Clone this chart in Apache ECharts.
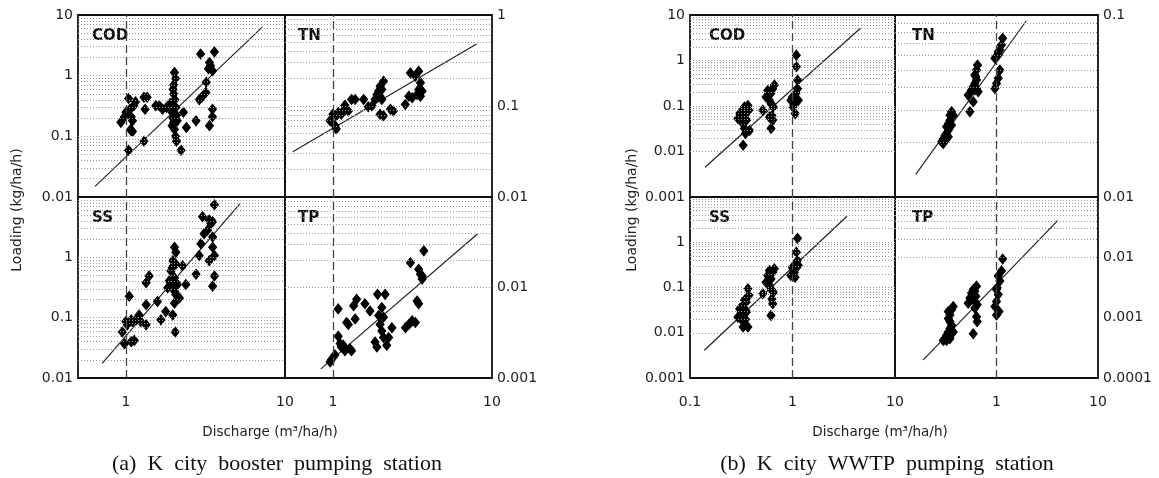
<!DOCTYPE html>
<html>
<head>
<meta charset="utf-8">
<script src="https://cdn.jsdelivr.net/npm/echarts@6.0.0/dist/echarts.min.js"></script>
<style>
html, body { margin: 0; padding: 0; background: #fff; }
#main { width: 1159px; height: 478px; }
</style>
</head>
<body>
<div id="main"></div>
<script>
// (a) K city booster pumping station  -- [discharge, loading]
var codA = [[0.93,0.17],[0.98,0.21],[1.0,0.25],[1.04,0.42],[1.06,0.28],[1.08,0.21],[1.1,0.18],[1.12,0.32],[1.15,0.37],
  [1.08,0.125],[1.1,0.12],[1.07,0.13],[1.04,0.059],[1.3,0.083],[1.3,0.44],[1.36,0.44],[1.32,0.28],[1.54,0.32],[1.62,0.32],
  [1.7,0.28],[1.8,0.3],[1.9,0.35],[1.95,0.25],[1.97,0.2],[1.98,0.6],[2.0,0.7],[2.02,1.13],[2.05,0.9],[2.0,0.5],[2.03,0.4],
  [2.06,0.3],[2.08,0.22],[2.0,0.17],[1.95,0.15],[2.02,0.13],[2.05,0.1],[2.08,0.083],[2.1,0.18],[2.22,0.059],[2.3,0.25],
  [2.4,0.14],[2.76,0.18],[2.89,0.4],[3.0,0.44],[3.18,0.53],[3.2,0.78],[2.95,2.27],[3.6,2.47],[3.35,1.65],[3.4,1.46],
  [3.5,1.21],[3.3,1.3],[3.5,0.28],[3.5,0.21],[3.35,0.15]];
var tnA = [[0.96,0.069],[1.0,0.081],[1.05,0.078],[1.08,0.085],[1.03,0.061],[1.05,0.056],[1.13,0.081],[1.16,0.088],[1.19,0.102],
  [1.25,0.088],[1.31,0.118],[1.38,0.118],[1.56,0.118],[1.67,0.098],[1.76,0.1],[1.84,0.118],[1.89,0.134],[1.94,0.146],
  [1.98,0.165],[2.03,0.152],[2.08,0.187],[1.98,0.128],[2.03,0.118],[1.98,0.081],[2.08,0.078],[2.3,0.092],[2.4,0.088],
  [2.85,0.104],[3.0,0.128],[3.15,0.123],[3.07,0.231],[3.3,0.213],[3.46,0.241],[3.55,0.18],[3.46,0.152],[3.55,0.128],
  [3.38,0.134],[3.64,0.146]];
var ssA = [[0.95,0.058],[0.98,0.037],[1.05,0.226],[1.0,0.086],[1.02,0.076],[1.08,0.092],[1.1,0.086],[1.08,0.04],[1.13,0.042],
  [1.16,0.092],[1.21,0.111],[1.24,0.086],[1.34,0.076],[1.34,0.164],[1.34,0.379],[1.4,0.491],[1.58,0.186],[1.66,0.092],
  [1.78,0.126],[1.83,0.312],[1.87,0.404],[1.92,0.596],[1.95,0.678],[2.02,0.46],[1.97,0.355],[2.02,0.274],[2.06,0.241],
  [2.02,1.47],[2.06,1.21],[1.97,0.879],[2.06,0.772],[2.02,0.174],[1.97,0.111],[2.04,0.058],[2.11,0.355],[2.17,0.212],
  [2.27,0.724],[2.38,0.355],[2.76,0.524],[2.89,1.07],[2.96,1.68],[3.03,4.72],[3.1,2.47],[3.26,2.81],[3.34,4.15],[3.42,3.65],
  [3.51,3.89],[3.6,7.42],[3.51,2.17],[3.34,0.879],[3.6,1.07],[3.51,1.47],[3.6,0.491],[3.51,0.333]];
var tpA = [[0.96,0.0015],[0.98,0.0016],[1.03,0.0018],[1.08,0.0029],[1.08,0.0058],[1.11,0.0024],[1.13,0.0022],[1.16,0.0023],
  [1.19,0.002],[1.22,0.0041],[1.25,0.0039],[1.28,0.0021],[1.31,0.002],[1.35,0.0063],[1.38,0.0045],[1.41,0.0074],[1.59,0.0066],
  [1.71,0.0055],[1.84,0.0025],[1.89,0.0022],[1.91,0.0084],[1.94,0.0049],[1.98,0.0039],[2.03,0.0033],[2.08,0.0028],
  [2.13,0.0084],[2.03,0.006],[2.08,0.0047],[2.18,0.0023],[2.24,0.0028],[2.35,0.0036],[2.86,0.0036],[3.0,0.0039],
  [3.15,0.0043],[3.3,0.0041],[3.07,0.0188],[3.38,0.0071],[3.46,0.0066],[3.55,0.014],[3.64,0.0124],[3.46,0.0159],
  [3.73,0.0254],[3.64,0.0134]];

// (b) K city WWTP pumping station
var codB = [[0.293,0.053],[0.305,0.068],[0.316,0.062],[0.328,0.081],[0.34,0.095],[0.353,0.068],[0.367,0.103],[0.375,0.081],
  [0.328,0.041],[0.34,0.032],[0.353,0.027],[0.381,0.029],[0.33,0.0137],[0.348,0.025],[0.316,0.049],[0.357,0.049],
  [0.513,0.081],[0.552,0.158],[0.573,0.22],[0.595,0.133],[0.617,0.19],[0.641,0.24],[0.665,0.29],[0.617,0.112],[0.63,0.062],
  [0.617,0.032],[0.641,0.049],[0.595,0.057],[0.65,0.095],[0.963,0.133],[1.0,0.158],[1.04,0.112],[1.08,0.19],[1.12,0.24],
  [1.12,0.37],[1.09,0.73],[1.09,1.31],[1.06,0.068],[1.01,0.095],[1.14,0.133]];
var tnB = [[0.288,0.0201],[0.299,0.0209],[0.311,0.0218],[0.322,0.0223],[0.335,0.0233],[0.322,0.0243],[0.335,0.0253],
  [0.348,0.0264],[0.361,0.0248],[0.348,0.0281],[0.361,0.0294],[0.375,0.0281],[0.335,0.0214],[0.311,0.0205],[0.299,0.0197],
  [0.526,0.0363],[0.547,0.0294],[0.568,0.0387],[0.59,0.0403],[0.612,0.0387],[0.612,0.0421],[0.636,0.044],[0.612,0.0468],
  [0.636,0.0498],[0.65,0.0531],[0.626,0.0458],[0.59,0.0334],[0.636,0.0395],[0.66,0.0379],[0.963,0.0395],[1.0,0.0421],
  [1.04,0.0449],[1.08,0.0498],[0.963,0.0578],[1.04,0.0603],[1.08,0.0642],[1.12,0.0684],[1.15,0.0744],[1.04,0.0628],[1.0,0.059]];
var ssB = [[0.293,0.022],[0.305,0.034],[0.316,0.029],[0.328,0.04],[0.34,0.052],[0.353,0.048],[0.367,0.094],[0.375,0.067],
  [0.328,0.024],[0.348,0.02],[0.357,0.029],[0.33,0.0134],[0.367,0.0134],[0.316,0.02],[0.34,0.034],[0.513,0.073],
  [0.552,0.131],[0.573,0.184],[0.595,0.237],[0.617,0.155],[0.641,0.218],[0.665,0.258],[0.617,0.094],[0.63,0.056],
  [0.617,0.024],[0.641,0.044],[0.595,0.111],[0.65,0.079],[0.963,0.184],[1.0,0.281],[1.04,0.218],[1.08,0.333],[1.12,0.394],
  [1.09,0.602],[1.12,1.22],[1.06,0.169],[1.01,0.258],[1.14,0.306]];
var tpB = [[0.299,0.00042],[0.311,0.00045],[0.322,0.00051],[0.335,0.00058],[0.348,0.00066],[0.361,0.00075],[0.348,0.00086],
  [0.335,0.00097],[0.348,0.00111],[0.361,0.00135],[0.375,0.00153],[0.335,0.00126],[0.322,0.00042],[0.348,0.00045],
  [0.375,0.00058],[0.526,0.00174],[0.547,0.00212],[0.568,0.00257],[0.59,0.00292],[0.612,0.00274],[0.636,0.00333],
  [0.626,0.00226],[0.645,0.00164],[0.612,0.00144],[0.636,0.00104],[0.645,0.00086],[0.59,0.00054],[0.612,0.00186],
  [0.963,0.00153],[1.0,0.00186],[1.04,0.00241],[1.0,0.00292],[1.08,0.00404],[1.04,0.0049],[1.12,0.00596],[1.15,0.00937],
  [1.015,0.00312],[1.06,0.00126],[1.0,0.00111]];

// regression lines (end points)
var codAFit = [[0.64,0.015],[7.2,6.3]];
var tnAFit = [[0.56,0.0315],[8.0,0.48]];
var ssAFit = [[0.71,0.0175],[5.2,7.7]];
var tpAFit = [[0.84,0.00126],[8.1,0.039]];
var codBFit = [[0.14,0.0045],[4.6,5.1]];
var tnBFit = [[0.16,0.0133],[1.97,0.093]];
var ssBFit = [[0.138,0.0041],[3.4,3.75]];
var tpBFit = [[0.19,0.0002],[4.0,0.0405]];

var refDischarge = 1;
var captions = ['(a)  K  city  booster  pumping  station', '(b)  K  city  WWTP  pumping  station'];

var panels = [
  { name: 'COD', pts: codA, fit: codAFit, g: [78, 15, 207, 182], x: [0.5, 10], y: [0.01, 10], side: 'left', bottom: false, dx: 14 },
  { name: 'TN', pts: tnA, fit: tnAFit, g: [285, 15, 207, 182], x: [0.5, 10], y: [0.01, 1], side: 'right', bottom: false, dx: 13 },
  { name: 'SS', pts: ssA, fit: ssAFit, g: [78, 197, 207, 181], x: [0.5, 10], y: [0.01, 10], side: 'left', bottom: true, dx: 14, minLbl: false },
  { name: 'TP', pts: tpA, fit: tpAFit, g: [285, 197, 207, 181], x: [0.5, 10], y: [0.001, 0.1], side: 'right', bottom: true, dx: 13, minLbl: false },
  { name: 'COD', pts: codB, fit: codBFit, g: [690, 15, 205, 182], x: [0.1, 10], y: [0.001, 10], side: 'left', bottom: false, dx: 19 },
  { name: 'TN', pts: tnB, fit: tnBFit, g: [895, 15, 203, 182], x: [0.1, 10], y: [0.01, 0.1], side: 'right', bottom: false, dx: 17 },
  { name: 'SS', pts: ssB, fit: ssBFit, g: [690, 197, 205, 181], x: [0.1, 10], y: [0.001, 10], side: 'left', bottom: true, dx: 19, minLbl: true },
  { name: 'TP', pts: tpB, fit: tpBFit, g: [895, 197, 203, 181], x: [0.1, 10], y: [0.0001, 0.1], side: 'right', bottom: true, dx: 17, minLbl: false }
];

var FONT = 'DejaVu Sans';
// label formatter; optionally blanks labels below lo or above hi
function makeFmt(lo, hi) {
  return function (v) {
    v = +v;
    if (lo != null && v <= lo * 1.01) return '';
    if (hi != null && v >= hi * 0.99) return '';
    return String(+v.toPrecision(4));
  };
}

// dotted horizontal lines at 1..9 x 10^k
function logGrid(min, max) {
  var out = [];
  var e0 = Math.round(Math.log10(min)), e1 = Math.round(Math.log10(max));
  for (var e = e0; e < e1; e++) {
    for (var m = 1; m <= 9; m++) {
      var v = +(m * Math.pow(10, e)).toPrecision(3);
      if (v > min * 1.001 && v < max * 0.999) {
        out.push({ yAxis: v, lineStyle: { type: [1, 2], color: '#999', width: 1 } });
      }
    }
  }
  return out;
}

var grids = [], xAxes = [], yAxes = [], series = [], graphics = [];

panels.forEach(function (p, i) {
  grids.push({
    left: p.g[0], top: p.g[1], width: p.g[2], height: p.g[3],
    show: true, borderColor: '#111', borderWidth: 1.8, backgroundColor: 'transparent'
  });
  xAxes.push({
    type: 'log', logBase: 10, gridIndex: i, min: p.x[0], max: p.x[1],
    axisLine: { show: false },
    axisTick: { show: p.bottom, inside: true, length: 5, lineStyle: { color: '#222' } },
    axisLabel: { show: p.bottom, fontFamily: FONT, fontSize: 14, color: '#222', margin: 17,
      formatter: makeFmt(p.minLbl ? null : p.x[0], null) },
    splitLine: { show: false }
  });
  yAxes.push({
    type: 'log', logBase: 10, gridIndex: i, min: p.y[0], max: p.y[1], position: p.side,
    axisLine: { show: false },
    axisTick: { show: false },
    axisLabel: { fontFamily: FONT, fontSize: 14, color: '#222', margin: 5,
      formatter: makeFmt(null, p.bottom ? p.y[1] : null) },
    splitLine: { show: false }
  });
  series.push({
    type: 'line', xAxisIndex: i, yAxisIndex: i, data: p.fit, symbol: 'none', silent: true,
    lineStyle: { color: '#222', width: 1.2 }, z: 2,
    markLine: {
      silent: true, symbol: ['none', 'none'], label: { show: false }, animation: false,
      data: logGrid(p.y[0], p.y[1]).concat([
        { xAxis: refDischarge, lineStyle: { type: [8, 4], color: '#444', width: 1.3 } }
      ])
    }
  });
  series.push({
    type: 'scatter', xAxisIndex: i, yAxisIndex: i, data: p.pts,
    symbol: 'diamond', symbolSize: [8, 10],
    itemStyle: { color: '#000', opacity: 1, borderColor: '#000', borderWidth: 1 }, z: 3
  });
  graphics.push({
    type: 'text', left: p.g[0] + p.dx, top: p.g[1] + 14,
    style: { text: p.name, font: 'bold 15px "DejaVu Sans"', fill: '#111' }
  });
});

// axis titles and captions
[[17, 210], [632, 210]].forEach(function (c) {
  graphics.push({
    type: 'text', x: c[0], y: c[1], rotation: Math.PI / 2,
    style: { text: 'Loading (kg/ha/h)', font: '14px "DejaVu Sans"', fill: '#222', align: 'center', verticalAlign: 'middle' }
  });
});
[[270, 432], [880, 432]].forEach(function (c) {
  graphics.push({
    type: 'text', x: c[0], y: c[1],
    style: { text: 'Discharge (m³/ha/h)', font: '13.5px "DejaVu Sans"', fill: '#222', align: 'center', verticalAlign: 'middle' }
  });
});
[[277, 464], [887, 464]].forEach(function (c, k) {
  graphics.push({
    type: 'text', x: c[0], y: c[1],
    style: { text: captions[k], font: '22px "Liberation Serif"', fill: '#111', align: 'center', verticalAlign: 'middle' }
  });
});

var chart = echarts.init(document.getElementById('main'));
chart.setOption({
  animation: false,
  backgroundColor: '#fff',
  grid: grids,
  xAxis: xAxes,
  yAxis: yAxes,
  series: series,
  graphic: graphics
});
</script>
</body>
</html>
